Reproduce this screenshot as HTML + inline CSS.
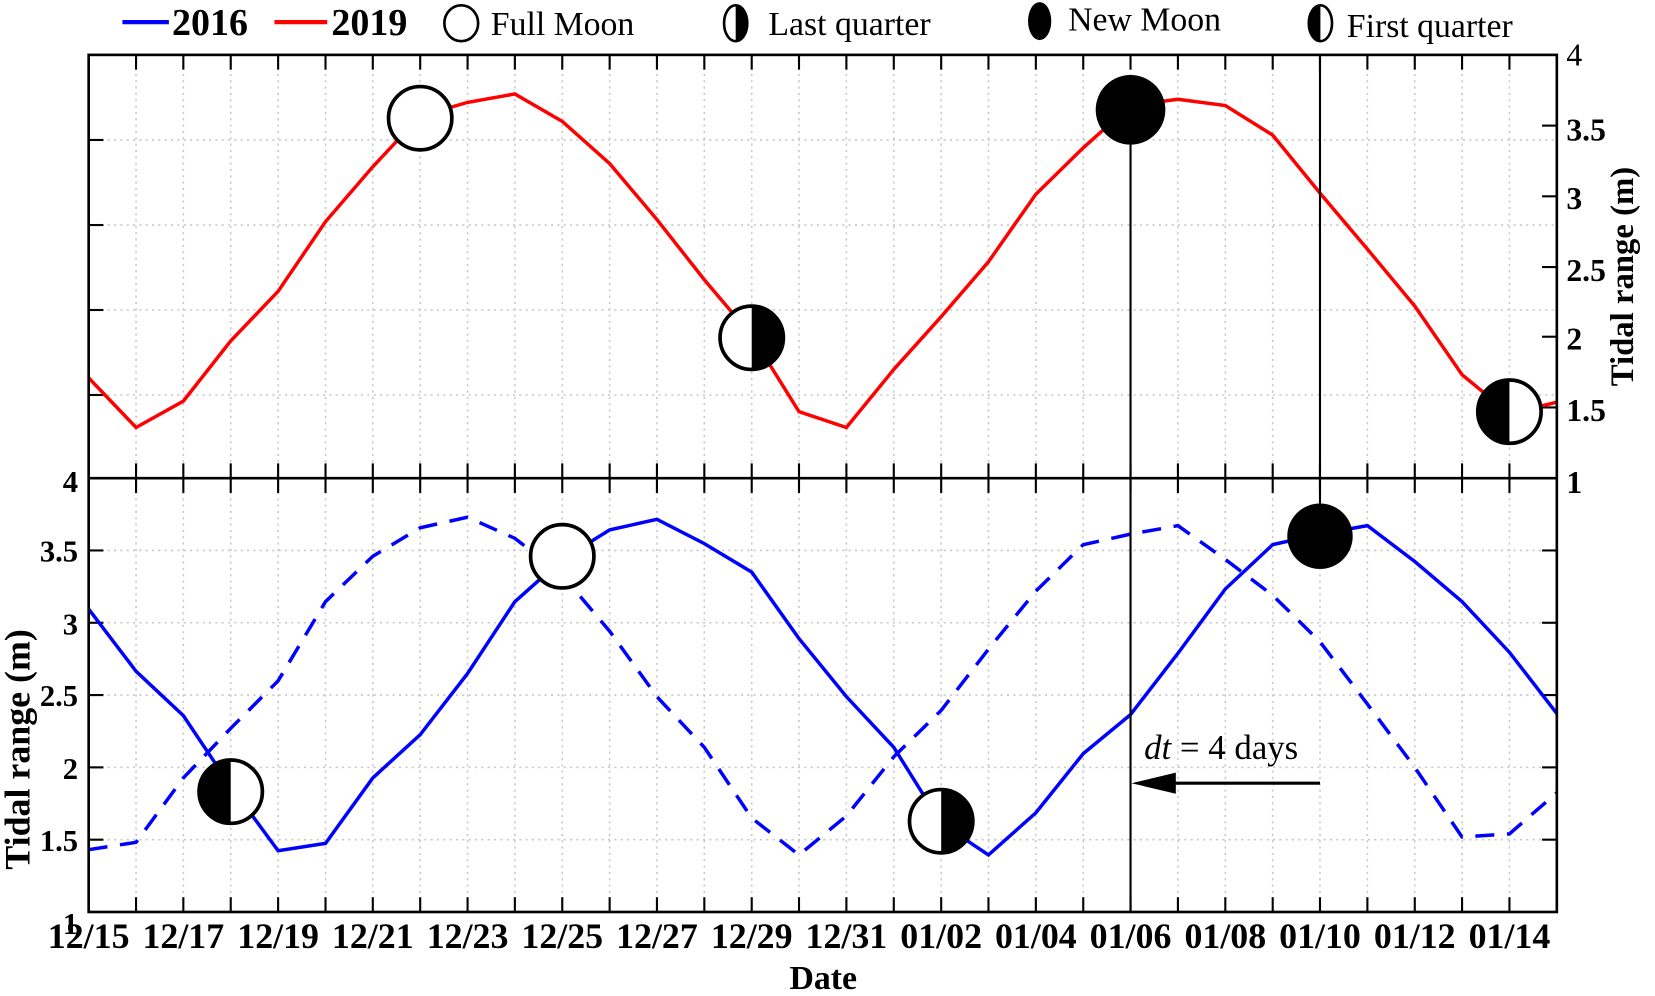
<!DOCTYPE html>
<html><head><meta charset="utf-8"><style>
html,body{margin:0;padding:0;background:#fff}
svg{display:block}
text{font-family:"Liberation Serif",serif;fill:#000}
.b{font-weight:bold}
</style></head><body>
<svg id="s" width="1655" height="996" viewBox="0 0 1568 943.6" preserveAspectRatio="none" xmlns="http://www.w3.org/2000/svg">
<g id="grid" stroke="#c8c8c8" stroke-width="1.5" stroke-dasharray="2,4" fill="none"></g>
<g id="ticks" stroke="#000" stroke-width="2" fill="none"></g>
<polyline id="red" fill="none" stroke="#f00" stroke-width="3.3"/>
<polyline id="dash" fill="none" stroke="#00f" stroke-width="3.3" stroke-dasharray="18,12"/>
<polyline id="blue" fill="none" stroke="#00f" stroke-width="3.3"/>
<line x1="1071.1" y1="104" x2="1071.1" y2="864" stroke="#000" stroke-width="2"/>
<line x1="1250.6" y1="52" x2="1250.6" y2="508" stroke="#000" stroke-width="2"/>
<rect x="84" y="52" width="1391" height="812" fill="none" stroke="#000" stroke-width="2.5"/>
<line x1="84" y1="453" x2="1475" y2="453" stroke="#000" stroke-width="2.5"/>
<line x1="1250.6" y1="742" x2="1100" y2="742" stroke="#000" stroke-width="3"/>
<polygon points="1072,742 1114,732 1114,752" fill="#000"/>
<text x="1084" y="719" font-size="33"><tspan font-style="italic">dt</tspan> = 4 days</text>
<circle cx="398.1" cy="112" r="30" fill="#fff" stroke="#000" stroke-width="3.5"/>
<g transform="translate(712.2,320)"><circle r="30" fill="#fff" stroke="#000" stroke-width="3.5"/><path d="M0,-30 A30,30 0 0 1 0,30 Z" fill="#000"/></g>
<circle cx="1071.1" cy="104" r="33" fill="#000"/>
<g transform="translate(1430.1,390)"><circle r="30" fill="#fff" stroke="#000" stroke-width="3.5"/><path d="M0,-30 A30,30 0 0 0 0,30 Z" fill="#000"/></g>
<g transform="translate(218.6,750)"><circle r="30" fill="#fff" stroke="#000" stroke-width="3.5"/><path d="M0,-30 A30,30 0 0 0 0,30 Z" fill="#000"/></g>
<circle cx="532.7" cy="527" r="30" fill="#fff" stroke="#000" stroke-width="3.5"/>
<g transform="translate(891.7,778)"><circle r="30" fill="#fff" stroke="#000" stroke-width="3.5"/><path d="M0,-30 A30,30 0 0 1 0,30 Z" fill="#000"/></g>
<circle cx="1250.6" cy="508" r="31" fill="#000"/>
<line x1="116" y1="21" x2="160" y2="21" stroke="#00f" stroke-width="4"/>
<text x="163" y="33" font-size="36" class="b">2016</text>
<line x1="260" y1="21" x2="310" y2="21" stroke="#f00" stroke-width="4"/>
<text x="314" y="33" font-size="36" class="b">2019</text>
<ellipse cx="437" cy="22" rx="16" ry="17" fill="#fff" stroke="#000" stroke-width="2.5"/>
<text x="465" y="33" font-size="32">Full Moon</text>
<g transform="translate(697,22)"><ellipse rx="11" ry="17" fill="#fff" stroke="#000" stroke-width="2.5"/><path d="M0,-17 A11,17 0 0 1 0,17 Z" fill="#000"/></g>
<text x="728" y="33" font-size="32">Last quarter</text>
<ellipse cx="985" cy="20" rx="11" ry="18" fill="#000"/>
<text x="1012" y="29" font-size="32">New Moon</text>
<g transform="translate(1251,22)"><ellipse rx="11" ry="17" fill="#fff" stroke="#000" stroke-width="2.5"/><path d="M0,-17 A11,17 0 0 0 0,17 Z" fill="#000"/></g>
<text x="1276" y="35" font-size="32">First quarter</text>
<g font-size="30" class="b">
<text x="1484" y="62" font-weight="normal">4</text>
<text x="1484" y="133">3.5</text>
<text x="1484" y="198">3</text>
<text x="1484" y="266">2.5</text>
<text x="1484" y="331">2</text>
<text x="1484" y="399">1.5</text>
<text x="1484" y="467">1</text>
</g>
<g font-size="29" class="b" text-anchor="end">
<text x="74" y="466">4</text>
<text x="74" y="532">3.5</text>
<text x="74" y="601">3</text>
<text x="74" y="669">2.5</text>
<text x="74" y="738">2</text>
<text x="74" y="806">1.5</text>
<text x="74" y="885">1</text>
</g>
<g font-size="34" class="b" text-anchor="middle">
<text x="84" y="898">12/15</text><text x="173.7" y="898">12/17</text><text x="263.5" y="898">12/19</text><text x="353.2" y="898">12/21</text><text x="443" y="898">12/23</text><text x="532.7" y="898">12/25</text><text x="622.4" y="898">12/27</text><text x="712.2" y="898">12/29</text><text x="801.9" y="898">12/31</text><text x="891.7" y="898">01/02</text><text x="981.4" y="898">01/04</text><text x="1071.1" y="898">01/06</text><text x="1160.9" y="898">01/08</text><text x="1250.6" y="898">01/10</text><text x="1340.4" y="898">01/12</text><text x="1430.1" y="898">01/14</text>
</g>
<text x="780" y="937" font-size="32" class="b" text-anchor="middle">Date</text>
<text transform="translate(1547,262) rotate(-90)" font-size="31" class="b" text-anchor="middle">Tidal range (m)</text>
<text transform="translate(28,710) rotate(-90)" font-size="34" class="b" text-anchor="middle">Tidal range (m)</text>
</svg>
<script>
var X=d=>84+44.87*d;
var red=[358,405,380,323,276,210,158,110,97,89,115,155,208,265,318,390,405,350,300,248,184,140,100,94,100,128,183,236,290,355,392,381];
var dash=[805,798,737,690,645,570,527,500,490,510,545,598,660,708,775,810,773,717,673,615,560,516,506,498,530,564,608,667,727,793,790,751];
var blue=[577,636,678,745,806,799,737,696,638,570,530,502,492,515,542,605,660,708,780,810,770,714,677,619,558,516,506,498,532,570,618,676];
function pts(a){return a.map((y,i)=>X(i).toFixed(1)+','+y).join(' ');}
document.getElementById('red').setAttribute('points',pts(red));
document.getElementById('dash').setAttribute('points',pts(dash));
document.getElementById('blue').setAttribute('points',pts(blue));
var g=document.getElementById('grid'),t=document.getElementById('ticks'),h='',k='';
for(var d=1;d<31;d++){var x=X(d).toFixed(1);h+='<line x1="'+x+'" y1="52" x2="'+x+'" y2="864"/>';
k+='<line x1="'+x+'" y1="52" x2="'+x+'" y2="66"/><line x1="'+x+'" y1="439" x2="'+x+'" y2="467"/><line x1="'+x+'" y1="864" x2="'+x+'" y2="850"/>';}
[132.6,213.2,293.7,374.2].forEach(y=>{h+='<line x1="84" y1="'+y+'" x2="1475" y2="'+y+'"/>';k+='<line x1="84" y1="'+y+'" x2="98" y2="'+y+'"/>';});
[119,186,253,319,386].forEach(y=>{k+='<line x1="1475" y1="'+y+'" x2="1461" y2="'+y+'"/>';});
[521.5,590,658.5,727,795.5].forEach(y=>{h+='<line x1="84" y1="'+y+'" x2="1475" y2="'+y+'"/>';k+='<line x1="84" y1="'+y+'" x2="98" y2="'+y+'"/><line x1="1475" y1="'+y+'" x2="1461" y2="'+y+'"/>';});
g.innerHTML=h;t.innerHTML=k;
</script>
</body></html>
